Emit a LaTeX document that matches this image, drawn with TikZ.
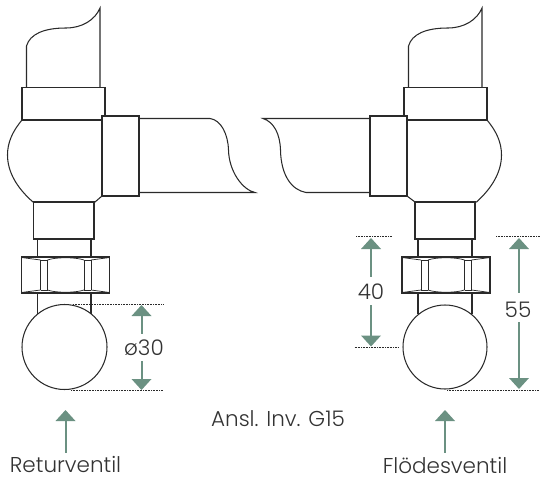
\documentclass[tikz,border=0pt]{standalone}
\usepackage{fontspec}
\setmainfont{Poppins Light}
\definecolor{arrowgreen}{HTML}{6B9182}
\definecolor{inkline}{HTML}{2A2A2A}
\definecolor{textgray}{HTML}{333333}
\tikzset{
  valve/.style={draw=inkline,line width=1.05pt,line join=miter},
  thinvalve/.style={draw=inkline,line width=0.75pt},
  guide/.style={draw=inkline,line width=0.6pt,dash pattern=on 1pt off 0.6pt},
  dimline/.style={draw=arrowgreen,line width=2pt},
  dimhead/.style={fill=arrowgreen,draw=none},
  label/.style={text=textgray,font=\fontsize{21.5}{24}\selectfont,inner sep=0pt},
  pics/nut/.style={code={
    \draw[valve,line width=1.2pt] (0,0) rectangle (88,36);
    \draw[thinvalve] (0,0.5) -- (19,3) (88,0.5) -- (69.5,3) (0,35.5) -- (19,33) (88,35.5) -- (69.5,33);
    \draw[thinvalve] (19,3) -- (19,33) (26,3) -- (26,33) (62.5,3) -- (62.5,33) (69.5,3) -- (69.5,33);
    \draw[thinvalve] (19,3) -- (26,3) (62.5,3) -- (69.5,3) (19,33) -- (26,33) (62.5,33) -- (69.5,33);
    \draw[thinvalve] (26,3) .. controls (34,0) and (54,0) .. (62.5,3);
    \draw[thinvalve] (26,33) .. controls (34,36) and (54,36) .. (62.5,33);
  }}
}
\newcommand{\headup}[2]{\fill[dimhead] (#1,#2) -- (#1+10,#2+11) -- (#1-10,#2+11) -- cycle;}
\newcommand{\headdown}[2]{\fill[dimhead] (#1,#2) -- (#1+10,#2-11) -- (#1-10,#2-11) -- cycle;}
\begin{document}
\begin{tikzpicture}[x=1pt,y=-1pt]
\useasboundingbox (0,0) rectangle (541,479);
% left valve
\draw[valve] (26.5,87) -- (26.5,46) .. controls (30,34) and (44,28) .. (66,28) .. controls (82,28) and (95,20) .. (100,8) -- (100,87);
\draw[valve] (22,87.5) rectangle (105,120);
\draw[valve] (22,120) .. controls (12,132) and (7.5,143) .. (7.5,155) .. controls (7.5,172) and (17,188) .. (33,202);
\draw[valve] (33,202) -- (95,202) -- (102,196);
\draw[valve] (139,118.5) -- (210,118.5) .. controls (221,120) and (228,134) .. (228.5,150) .. controls (229,172) and (243,190) .. (255,192.5) -- (139,192.5);
\draw[valve,fill=white] (102,116) rectangle (139,196);
\draw[valve] (33.5,202) rectangle (94,239);
\draw[valve] (37.5,239) -- (37.5,257) (91,239) -- (91,257) (37.5,293) -- (37.5,314) (91,293) -- (91,314);
\pic at (21.5,257) {nut};
\draw[valve,fill=white] (64.5,347) circle (42.5);
% right valve
\draw[valve] (408.5,87) -- (408.5,46) .. controls (412,34) and (426,28) .. (448,28) .. controls (464,28) and (477,20) .. (482,8) -- (482,87);
\draw[valve] (404,87.5) rectangle (487,120);
\draw[valve] (487,120) .. controls (497,132) and (501.5,143) .. (501.5,155) .. controls (501.5,172) and (492,188) .. (476.5,202);
\draw[valve] (476.5,202) -- (415,202) -- (407,196);
\draw[valve] (370,118.5) -- (263,118.5) .. controls (274,122) and (280,134) .. (280.5,150) .. controls (281,176) and (292,190) .. (306,192.5) -- (370,192.5);
\draw[valve,fill=white] (370,116) rectangle (407,196);
\draw[valve] (415,202) rectangle (475,239);
\draw[valve] (418,239) -- (418,257) (472,239) -- (472,257) (418,293) -- (418,314) (472,293) -- (472,314);
\pic at (402,257) {nut};
\draw[valve,fill=white] (445,347) circle (42);
% guides
\coordinate (g1a) at (73,304); \coordinate (g1b) at (163,304);
\coordinate (g2a) at (71,390); \coordinate (g2b) at (163,390);
\coordinate (g3a) at (356,236.5); \coordinate (g3b) at (392,236.5);
\coordinate (g4a) at (354.5,347); \coordinate (g4b) at (399,347);
\coordinate (g5a) at (496,236.5); \coordinate (g5b) at (540,236.5);
\coordinate (g6a) at (447,390); \coordinate (g6b) at (539,390);
\draw[guide] (g1a) -- (g1b);
\draw[guide] (g2a) -- (g2b);
\draw[guide] (g3a) -- (g3b);
\draw[guide] (g4a) -- (g4b);
\draw[guide] (g5a) -- (g5b);
\draw[guide] (g6a) -- (g6b);
% dimension arrows
\draw[dimline] (141.5,316) -- (141.5,334);
\headup{141.5}{305}
\draw[dimline] (141.5,361) -- (141.5,380);
\headdown{141.5}{390}
\draw[dimline] (371,248) -- (371,277);
\headup{371}{238}
\draw[dimline] (371,305) -- (371,336);
\headdown{371}{346.5}
\draw[dimline] (519,248) -- (519,293);
\headup{519}{238}
\draw[dimline] (519,322) -- (519,379);
\headdown{519}{389}
\draw[dimline] (65.5,421) -- (65.5,453);
\headup{65.5}{410}
\draw[dimline] (445,421) -- (445,453);
\headup{445}{410}
% labels
\node[label] (d30) at (144,348) {ø30};
\node[label] (d40) at (371,292) {40};
\node[label] (d55) at (518,310) {55};
\node[label] (conn) at (278,419) {Ansl. Inv. G15};
\node[label] (ret) at (65.5,465) {Returventil};
\node[label] (flo) at (445,465) {Flödesventil};
\end{tikzpicture}
\end{document}
